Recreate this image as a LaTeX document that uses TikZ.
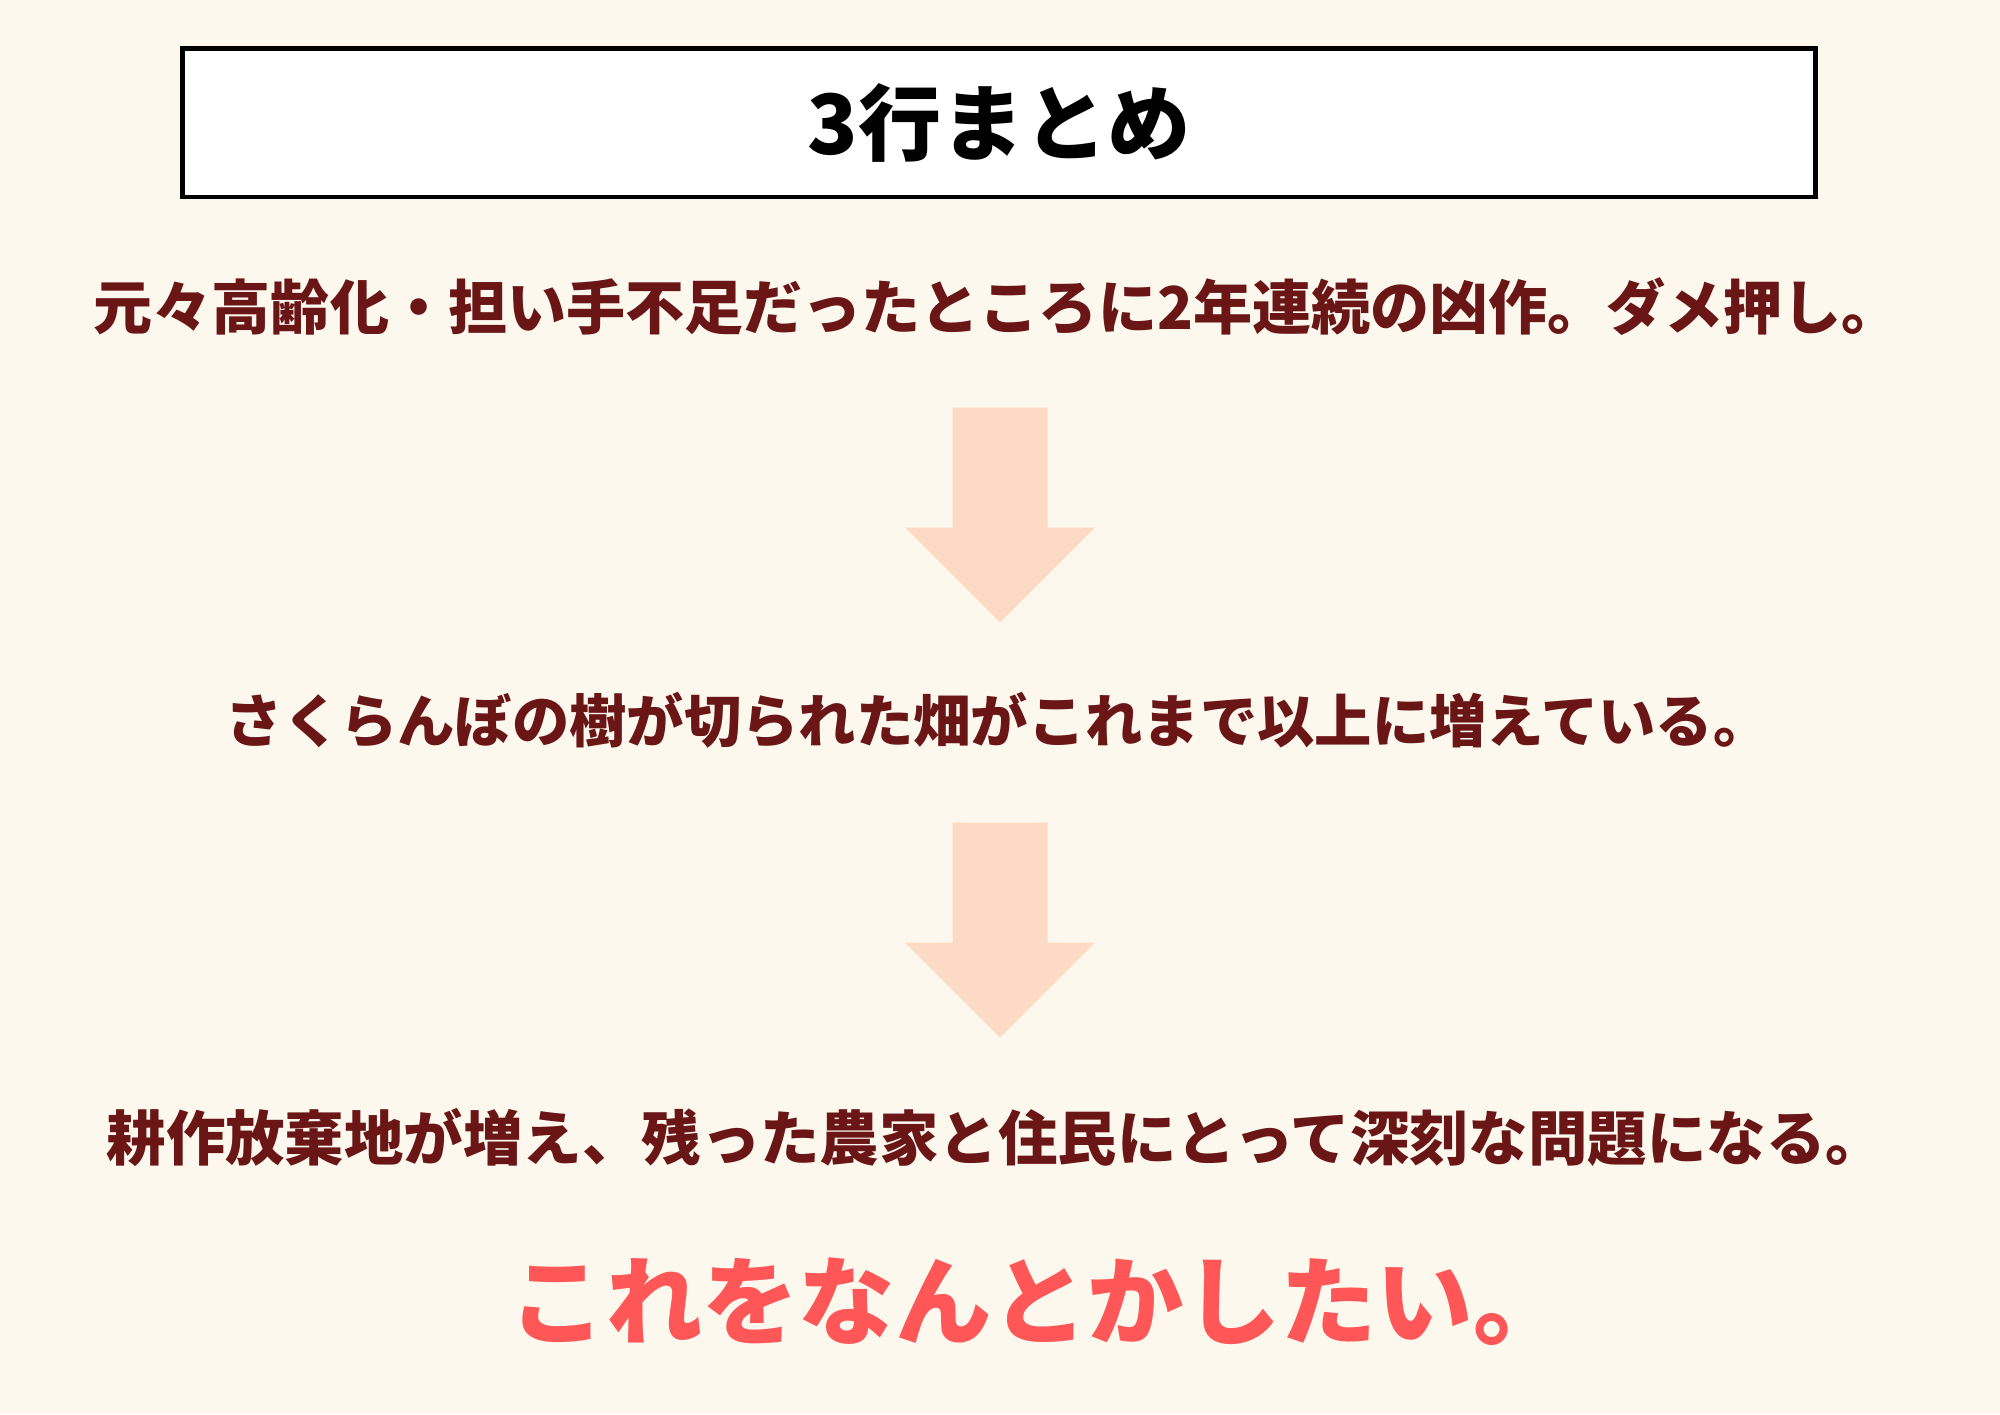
\documentclass[tikz,border=0pt]{standalone}
\usepackage{fontspec}
\setmainfont{Noto Sans CJK JP}
\usetikzlibrary{calc}
\definecolor{paperCream}{RGB}{253,248,238}
\definecolor{textMaroon}{RGB}{106,22,22}
\definecolor{arrowPeach}{RGB}{252,218,195}
\definecolor{punchCoral}{RGB}{255,87,87}

\begin{document}
\begin{tikzpicture}[x=0.01cm,y=-0.01cm,
  summary/.style={font=\bfseries\fontsize{16.8}{20}\selectfont,text=textMaroon,inner sep=0pt,anchor=west}]
% Parameters
\def\midX{1000}
\def\shaftHalf{47.5}
\def\headHalf{95}
\def\arrowHalf{107.5}
\def\headStart{12.5}

% Background
\fill[paperCream] (0,0) rectangle (2000,1414);
\useasboundingbox (0,0) rectangle (2000,1414);

% Title
\node[draw=black,line width=1.3pt,fill=white,minimum width=16.315cm,minimum height=1.485cm,inner sep=0pt,
  font=\bfseries\fontsize{23.6}{28}\selectfont] (title) at (999,122.5){3行まとめ};

% Summary lines
\node[summary] (lineA) at (93,307){元々高齢化・担い手不足だったところに2年連続の凶作。ダメ押し。};
\node[summary,font=\bfseries\fontsize{16.3}{20}\selectfont] (lineB) at (225,720){さくらんぼの樹が切られた畑がこれまで以上に増えている。};
\node[summary,font=\bfseries\fontsize{16.9}{20}\selectfont] (lineC) at (106,1138){耕作放棄地が増え、残った農家と住民にとって深刻な問題になる。};
\node[font=\bfseries\fontsize{27.4}{32}\selectfont,text=punchCoral,inner sep=0pt,anchor=west] (punch) at (509,1302){これをなんとかしたい。};

% Arrows
\coordinate (arrowA) at (\midX,515);
\coordinate (arrowB) at (\midX,930);
\fill[arrowPeach] ($(arrowA)+(-\shaftHalf,-\arrowHalf)$) -- ($(arrowA)+(\shaftHalf,-\arrowHalf)$)
  -- ($(arrowA)+(\shaftHalf,\headStart)$) -- ($(arrowA)+(\headHalf,\headStart)$)
  -- ($(arrowA)+(0,\arrowHalf)$) -- ($(arrowA)+(-\headHalf,\headStart)$)
  -- ($(arrowA)+(-\shaftHalf,\headStart)$) -- cycle;
\fill[arrowPeach] ($(arrowB)+(-\shaftHalf,-\arrowHalf)$) -- ($(arrowB)+(\shaftHalf,-\arrowHalf)$)
  -- ($(arrowB)+(\shaftHalf,\headStart)$) -- ($(arrowB)+(\headHalf,\headStart)$)
  -- ($(arrowB)+(0,\arrowHalf)$) -- ($(arrowB)+(-\headHalf,\headStart)$)
  -- ($(arrowB)+(-\shaftHalf,\headStart)$) -- cycle;
\end{tikzpicture}
\end{document}
